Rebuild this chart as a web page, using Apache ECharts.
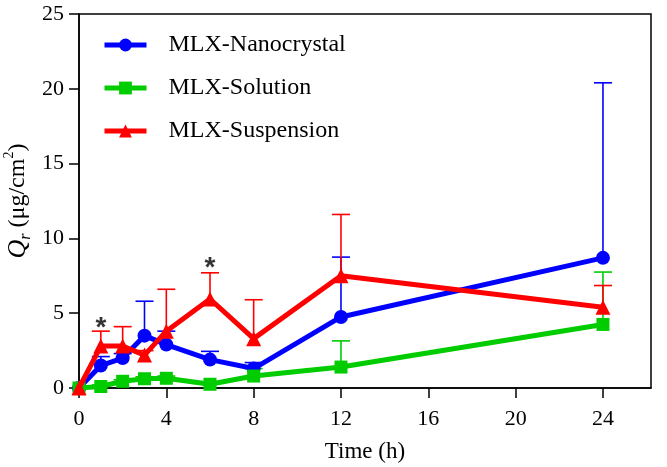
<!DOCTYPE html>
<html>
<head>
<meta charset="utf-8">
<script src="https://cdn.jsdelivr.net/npm/echarts@6/dist/echarts.min.js"></script>
<style>html,body{margin:0;padding:0;background:#fff;}#c{width:667px;height:467px;}</style>
</head>
<body>
<div id="c"></div>
<script>
const times = [0, 1, 2, 3, 4, 6, 8, 12, 24];
const nanoValues = [0, 1.5, 2.0, 3.5, 2.9, 1.9, 1.3, 4.75, 8.7];
const nanoErr    = [0, 0.6, 0.3, 2.3, 0.9, 0.55, 0.4, 4.0, 11.7];
const solValues  = [0, 0.1, 0.45, 0.62, 0.65, 0.25, 0.8, 1.4, 4.25];
const solErr     = [0, 0.1, 0.1, 0.13, 0.15, 0.1, 0.5, 1.75, 3.5];
const susValues  = [0, 2.8, 2.8, 2.2, 3.8, 5.95, 3.3, 7.5, 5.4];
const susErr     = [0, 1.0, 1.3, 0.3, 2.8, 1.75, 2.6, 4.1, 1.45];
const starPoints = [[1, 4.0], [6, 8.0]];
const xTicks = [0, 4, 8, 12, 16, 20, 24];
const names = ['MLX-Nanocrystal', 'MLX-Solution', 'MLX-Suspension'];
const colors = ['#0000FF', '#00CC00', '#FF0000'];

const font = "Liberation Serif";
const pairs = vals => times.map((t, i) => [t, vals[i]]);
const errTriples = (vals, errs) => times.map((t, i) => [t, vals[i], errs[i]]);

function errRender(color) {
  return function (params, api) {
    const x = api.value(0), y = api.value(1), e = api.value(2);
    if (!e) return null;
    const p0 = api.coord([x, y]);
    const p1 = api.coord([x, y + e]);
    const st = { stroke: color, lineWidth: 1.6 };
    return {
      type: 'group',
      children: [
        { type: 'line', shape: { x1: p0[0], y1: p0[1], x2: p1[0], y2: p1[1] }, style: st },
        { type: 'line', shape: { x1: p1[0] - 9, y1: p1[1], x2: p1[0] + 9, y2: p1[1] }, style: st }
      ]
    };
  };
}

const chart = echarts.init(document.getElementById('c'), null, { renderer: 'canvas' });
const allVals = [nanoValues, solValues, susValues];
const allErrs = [nanoErr, solErr, susErr];
const symbols = ['circle', 'rect', 'triangle'];
const sizes = [14, 13, 15];

const series = [];
for (let k = 0; k < 3; k++) {
  series.push({
    type: 'custom',
    name: names[k] + ' err',
    renderItem: errRender(colors[k]),
    data: errTriples(allVals[k], allErrs[k]),
    encode: { x: 0, y: 1 },
    z: 1,
    silent: true
  });
}
for (let k = 0; k < 3; k++) {
  series.push({
    type: 'line',
    name: names[k],
    data: pairs(allVals[k]),
    symbol: symbols[k],
    symbolSize: sizes[k],
    showAllSymbol: true,
    lineStyle: { color: colors[k], width: 5 },
    itemStyle: { color: colors[k], borderWidth: 0 },
    z: 3 + k
  });
}
series.push({
  type: 'scatter',
  name: 'stars',
  data: starPoints,
  symbolSize: 0,
  z: 10,
  label: {
    show: true, position: 'inside', formatter: '*',
    color: '#000', fontFamily: "Liberation Sans", fontWeight: 'bold', fontSize: 28
  }
});

const tickRich = { t: { fontFamily: font, fontSize: 22, color: '#000' } };

chart.setOption({
  animation: false,
  backgroundColor: '#fff',
  textStyle: { fontFamily: font, color: '#000' },
  grid: { left: 79, right: 16, top: 14, bottom: 79, outerBoundsMode: 'none', containLabel: false,
          show: true, borderColor: '#000', borderWidth: 1.5, backgroundColor: 'transparent' },
  legend: {
    data: names,
    orient: 'vertical',
    left: 97,
    top: 28,
    itemWidth: 42,
    itemHeight: 16,
    itemGap: 19,
    lineStyle: { width: 5 },
    textStyle: { fontFamily: font, fontSize: 24, color: '#000', padding: [0, 0, 0, 17] }
  },
  xAxis: {
    type: 'value',
    min: 0, max: 26.2,
    name: 'Time (h)',
    nameLocation: 'middle',
    nameGap: 52,
    nameMoveOverlap: false,
    nameTextStyle: { fontFamily: font, fontSize: 23, color: '#000' },
    axisLine: { lineStyle: { color: '#000', width: 1.5 } },
    axisTick: { length: 10, lineStyle: { color: '#000', width: 1.5 }, customValues: xTicks },
    axisLabel: { customValues: xTicks, margin: 20, fontFamily: font, fontSize: 22, color: '#000',
                 formatter: v => '{t|' + v + '}', rich: tickRich },
    splitLine: { show: false }
  },
  yAxis: {
    type: 'value',
    min: 0, max: 25, interval: 5,
    name: '{i|Q}{s|r}{n| (μg/cm}{p|2}{n|)}',
    nameLocation: 'middle',
    nameGap: 45,
    nameMoveOverlap: false,
    nameTextStyle: {
      fontFamily: font, fontSize: 24, color: '#000',
      rich: {
        i: { fontFamily: font, fontStyle: 'italic', fontSize: 26, lineHeight: 32, verticalAlign: 'middle' },
        s: { fontFamily: font, fontStyle: 'italic', fontSize: 16, lineHeight: 32, verticalAlign: 'bottom' },
        n: { fontFamily: font, fontSize: 24, lineHeight: 32, verticalAlign: 'middle' },
        p: { fontFamily: font, fontSize: 14, lineHeight: 32, verticalAlign: 'top' }
      }
    },
    axisLine: { show: true, lineStyle: { color: '#000', width: 1.5 } },
    axisTick: { show: true, length: 10, lineStyle: { color: '#000', width: 1.5 } },
    axisLabel: { margin: 15, fontFamily: font, fontSize: 22, color: '#000',
                 formatter: v => '{t|' + v + '}', rich: tickRich },
    splitLine: { show: false }
  },
  series: series
});
</script>
</body>
</html>
